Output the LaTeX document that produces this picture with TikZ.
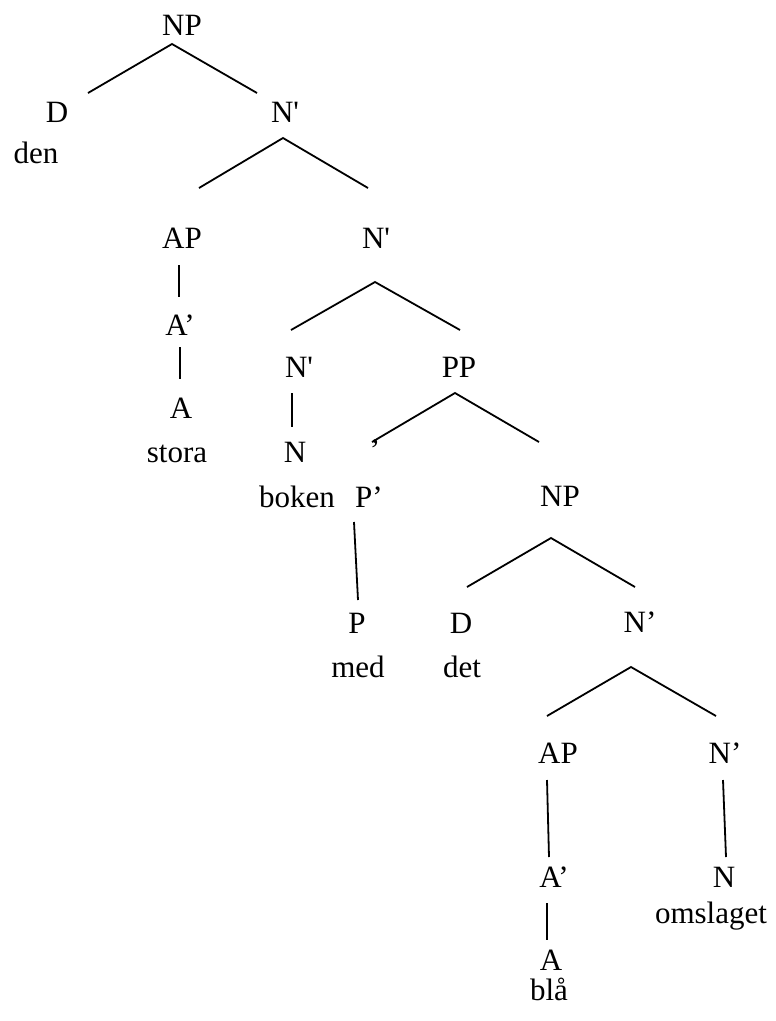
\documentclass[tikz,border=0pt]{standalone}
\usepackage{fontspec}
\setmainfont{Liberation Serif}
\usetikzlibrary{calc}
\tikzset{
	cat/.style={anchor=base, inner sep=0pt, font=\fontsize{31}{36}\selectfont},
	branch/.style={line width=1.8pt, line cap=butt}
}
\newcommand{\sq}{\textquotesingle}

\begin{document}
\begin{tikzpicture}[x=1pt, y=-1pt]
			%%%%% START %%%%%
			\useasboundingbox (0, 0) rectangle (776, 1021);
			
			\node[cat] (np) at (182, 35) {NP};
			\node[cat] (d) at (57, 122) {D};
			\node[cat] (den) at (36, 163) {den};
			\node[cat] (nbar1) at (285, 122) {N\sq};
			
			\node[cat] (ap) at (182, 248) {AP};
			\node[cat] (abar1) at (180, 335) {A’};
			\node[cat] (a1) at (181, 418) {A};
			\node[cat] (stora) at (177, 462) {stora};
			
			\node[cat] (nbar2) at (376, 248) {N\sq};
			\node[cat] (nbar3) at (299, 377) {N\sq};
			\node[cat] (n1) at (295, 462) {N};
			\node[cat] (boken) at (297, 507) {boken};
			
			\node[cat] (pp) at (459, 377) {PP};
			\node[cat] (stray) at (375, 460) {’};
			\node[cat] (pbar) at (369, 507) {P’};
			\node[cat] (p) at (357, 633) {P};
			\node[cat] (med) at (358, 677) {med};
			
			\node[cat] (np2) at (560, 506) {NP};
			\node[cat] (d2) at (461, 633) {D};
			\node[cat] (det) at (462, 677) {det};
			\node[cat] (nbar4) at (640, 632) {N’};
			
			\node[cat] (ap2) at (558, 763) {AP};
			\node[cat] (abar2) at (554, 887) {A’};
			\node[cat] (a2) at (551, 970) {A};
			\node[cat] (bla) at (549, 1000) {blå};
			
			\node[cat] (nbar5) at (725, 763) {N’};
			\node[cat] (n2) at (724, 887) {N};
			\node[cat] (omslaget) at (711, 923) {omslaget};
			
			% branch ends
			\coordinate (np-t) at (172, 44);
			\coordinate (np-l) at (88, 93);
			\coordinate (np-r) at (257, 93);
			\coordinate (nbar1-t) at (283, 138);
			\coordinate (nbar1-l) at (199, 188);
			\coordinate (nbar1-r) at (368, 188);
			\coordinate (ap-t) at (179, 265);
			\coordinate (ap-b) at (179, 297);
			\coordinate (abar1-t) at (180, 347);
			\coordinate (abar1-b) at (180, 379);
			\coordinate (nbar2-t) at (375, 282);
			\coordinate (nbar2-l) at (291, 330);
			\coordinate (nbar2-r) at (460, 330);
			\coordinate (nbar3-t) at (292, 393);
			\coordinate (nbar3-b) at (292, 427);
			\coordinate (pp-t) at (455, 393);
			\coordinate (pp-l) at (372, 442);
			\coordinate (pp-r) at (539, 442);
			\coordinate (pbar-t) at (354, 522);
			\coordinate (pbar-b) at (358, 600);
			\coordinate (np2-t) at (551, 538);
			\coordinate (np2-l) at (467, 587);
			\coordinate (np2-r) at (635, 587);
			\coordinate (nbar4-t) at (631, 667);
			\coordinate (nbar4-l) at (547, 716);
			\coordinate (nbar4-r) at (716, 716);
			\coordinate (ap2-t) at (547, 780);
			\coordinate (ap2-b) at (549, 857);
			\coordinate (nbar5-t) at (723, 780);
			\coordinate (nbar5-b) at (726, 857);
			\coordinate (abar2-t) at (547, 903);
			\coordinate (abar2-b) at (547, 940);
			
			\draw[branch] (np-l) -- (np-t) -- (np-r);
			\draw[branch] (nbar1-l) -- (nbar1-t) -- (nbar1-r);
			\draw[branch] (ap-t) -- (ap-b);
			\draw[branch] (abar1-t) -- (abar1-b);
			\draw[branch] (nbar2-l) -- (nbar2-t) -- (nbar2-r);
			\draw[branch] (nbar3-t) -- (nbar3-b);
			\draw[branch] (pp-l) -- (pp-t) -- (pp-r);
			\draw[branch] (pbar-t) -- (pbar-b);
			\draw[branch] (np2-l) -- (np2-t) -- (np2-r);
			\draw[branch] (nbar4-l) -- (nbar4-t) -- (nbar4-r);
			\draw[branch] (ap2-t) -- (ap2-b);
			\draw[branch] (nbar5-t) -- (nbar5-b);
			\draw[branch] (abar2-t) -- (abar2-b);
			
			%%%%% END %%%%%
\end{tikzpicture}
\end{document}
